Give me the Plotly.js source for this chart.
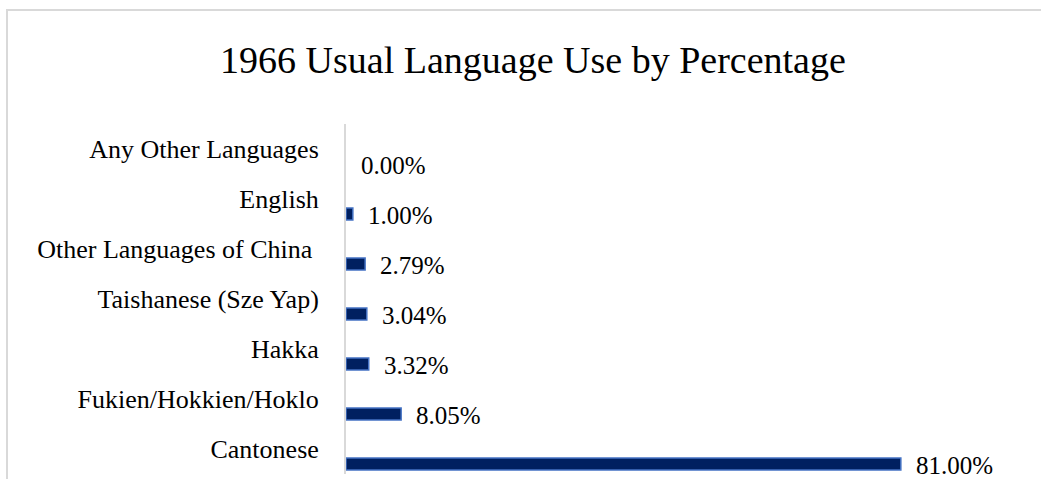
<!DOCTYPE html>
<html>
<head>
<meta charset="utf-8">
<script src="https://cdn.plot.ly/plotly-3.0.1.min.js"></script>
<style>
  html, body { margin: 0; padding: 0; background: #ffffff; overflow: hidden; }
  #frame {
    position: absolute; left: 6px; top: 9px; width: 1100px; height: 600px;
    border: 2px solid #d9d9d9; box-sizing: border-box;
  }
  #chart { position: absolute; left: 0; top: 0; width: 1041px; height: 479px; }
</style>
</head>
<body>
<div id="frame"></div>
<div id="chart"></div>
<script>
// Usual language spoken, 1966 (percent of population)
const languages = [
  "Cantonese",
  "Fukien/Hokkien/Hoklo",
  "Hakka",
  "Taishanese (Sze Yap)",
  "Other Languages of China\u00a0",
  "English",
  "Any Other Languages"
];
const percentages = [81.00, 8.05, 3.32, 3.04, 2.79, 1.00, 0.00];

const serif = "Times New Roman, Liberation Serif, serif";

const barOffset = -0.42;   // bars sit in the lower part of each category band
const barWidth = 0.24;
const barCenter = barOffset + barWidth / 2;

const trace = {
  type: "bar",
  orientation: "h",
  x: percentages,
  y: languages,
  offset: barOffset,
  width: barWidth,
  marker: {
    color: "#002060",
    // no outline on empty bars so a zero value leaves no mark
    line: { color: "#4472C4", width: percentages.map(v => (v > 0 ? 1.5 : 0)) }
  },
  hoverinfo: "skip"
};

// value labels placed just past the end of each bar
const valueLabels = percentages.map((v, i) => ({
  x: v,
  y: i + barCenter,
  xref: "x",
  yref: "y",
  text: v.toFixed(2) + "%",
  showarrow: false,
  xanchor: "left",
  yanchor: "middle",
  xshift: 13,
  yshift: -1,
  font: { family: serif, size: 25, color: "#000000" }
}));

const layout = {
  width: 1041,
  height: 479,
  margin: { l: 346, r: 10, t: 124, b: 5, pad: 0 },
  paper_bgcolor: "rgba(0,0,0,0)",
  plot_bgcolor: "rgba(0,0,0,0)",
  showlegend: false,
  title: {
    text: "1966 Usual Language Use by Percentage",
    font: { family: serif, size: 38, color: "#000000" },
    xref: "container", x: 0.512, xanchor: "center",
    yref: "container", y: 0.875, yanchor: "middle"
  },
  xaxis: {
    range: [0, 100],
    showgrid: false, zeroline: false, showline: false,
    showticklabels: false, ticks: ""
  },
  yaxis: {
    type: "category",
    categoryorder: "array",
    categoryarray: languages,
    range: [-0.5, 6.5],
    showgrid: false, zeroline: false,
    showline: true, linecolor: "#d9d9d9", linewidth: 2,
    ticks: "",
    ticklabelstandoff: 20,
    tickfont: { family: serif, size: 26, color: "#000000" }
  },
  annotations: valueLabels
};

Plotly.newPlot("chart", [trace], layout, { displayModeBar: false, staticPlot: true });
</script>
</body>
</html>
